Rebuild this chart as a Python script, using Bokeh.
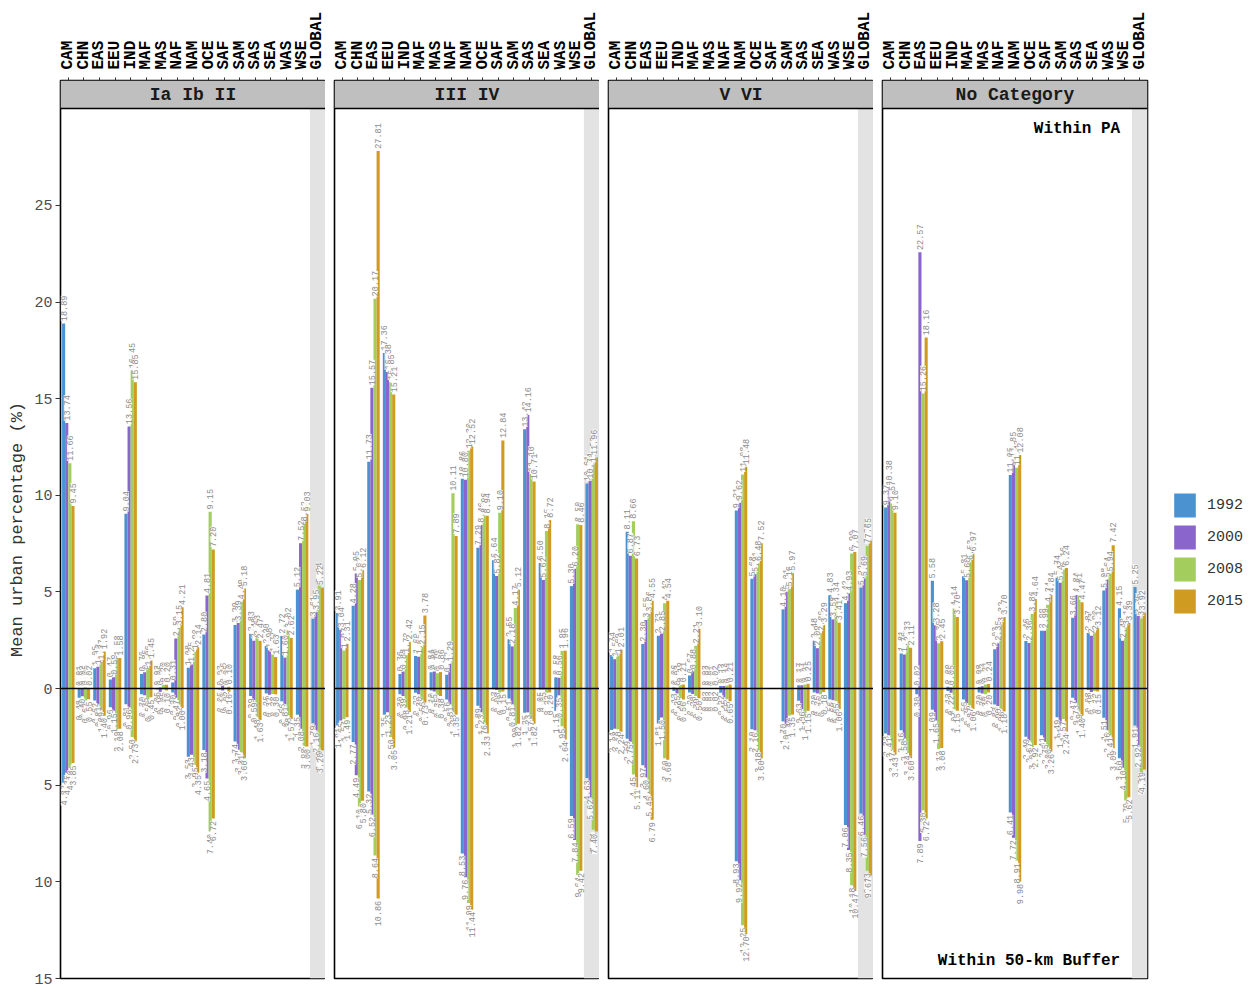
import math
from bokeh.plotting import figure
from bokeh.models import ColumnDataSource, FixedTicker, Legend, LegendItem, Range1d
from bokeh.layouts import row
from bokeh.core.properties import value
from bokeh.embed import file_html
from bokeh.resources import INLINE

NAN = float("nan")

categories = ["CAM", "CHN", "EAS", "EEU", "IND", "MAF", "MAS", "NAF", "NAM", "OCE",
              "SAF", "SAM", "SAS", "SEA", "WAS", "WSE", "GLOBAL"]
years = ["1992", "2000", "2008", "2015"]
panels = ["Ia Ib II", "III IV", "V VI", "No Category"]
year_colors = ["#4B92D0", "#8A65CC", "#A3CD5D", "#CF9B20"]

# ---- Within PA (positive side) ----
pa_p1_1992 = [18.89, 0.01, 1.05, 0.47, 9.04, 0.76, 0.03, 0.31, 1.08, 2.80, 0.03, 3.29, 2.83, 2.20, 2.72, 5.12, 3.61]
pa_p1_2000 = [13.74, 0.02, 1.13, 0.59, 13.56, 0.85, 0.05, 2.59, 1.25, 4.81, 0.16, 3.39, 2.48, 1.98, 1.60, 7.52, 3.95]
pa_p1_2008 = [11.66, 0.05, 1.37, 1.58, 16.45, 1.06, 0.20, 3.15, 1.90, 9.15, 0.05, 4.49, 2.63, 1.77, 3.02, 8.52, 5.34]
pa_p1_2015 = [9.45, 0.02, 1.92, 1.58, 15.85, 1.45, 0.20, 4.21, 2.14, 7.20, 0.10, 5.18, 2.47, 1.63, 2.62, 9.03, 5.22]

pa_p2_1992 = [3.91, 4.28, 11.73, 17.36, 0.76, 1.69, 0.84, 0.72, 10.86, 7.29, 6.64, 2.55, 13.42, 6.50, 0.58, 5.30, 10.61]
pa_p2_2000 = [3.04, 5.95, 15.57, 16.38, 0.88, 1.65, 0.88, 1.29, 10.80, 8.46, 5.82, 2.18, 14.16, 5.62, 0.56, 6.20, 10.74]
pa_p2_2008 = [1.97, 5.62, 20.17, 15.85, 1.72, 2.15, 0.79, 10.11, 12.30, 8.96, 9.10, 4.17, 11.10, 8.15, 1.95, 8.50, 11.59]
pa_p2_2015 = [2.31, 6.12, 27.81, 15.21, 2.42, 3.78, 0.86, 7.89, 12.52, 8.94, 12.84, 5.12, 10.71, 8.72, 1.96, 8.46, 11.96]

pa_p3_1992 = [1.74, 8.11, 2.30, 2.73, 0.06, 0.67, 0.03, 0.13, 9.21, 5.68, NAN, 4.10, 0.17, 2.48, 4.83, 4.42, 5.22]
pa_p3_2000 = [1.52, 6.87, 3.55, 2.85, 0.03, 0.88, 0.03, 0.13, 9.62, 5.91, NAN, 5.01, 0.17, 2.09, 3.58, 4.93, 5.69]
pa_p3_2008 = [1.69, 8.66, 3.86, 4.42, 0.19, 2.21, 0.01, 0.16, 11.08, 6.48, NAN, 5.16, 0.21, 2.86, 4.34, 6.99, 7.38]
pa_p3_2015 = [2.01, 6.73, 4.55, 4.54, 0.21, 3.10, 0.02, 0.21, 11.48, 7.52, NAN, 5.97, 0.25, 3.29, 3.41, 7.07, 7.65]

pa_p4_1992 = [9.37, 1.81, 0.02, 5.58, 0.09, 5.81, 0.08, 2.03, 11.05, 2.46, 2.99, 5.74, 3.66, 2.87, 5.08, 4.15, 5.25]
pa_p4_2000 = [10.38, 1.76, 22.57, 3.28, 0.05, 5.60, 0.12, 2.35, 11.85, 2.36, 2.99, 5.47, 4.84, 2.73, 5.64, 2.48, 3.75]
pa_p4_2008 = [9.57, 2.33, 15.26, 2.35, 4.14, 6.53, 0.21, 3.32, 11.43, 3.86, 4.34, 6.16, 4.81, 2.90, 5.94, 3.16, 3.63]
pa_p4_2015 = [9.10, 2.11, 18.16, 2.45, 3.70, 6.97, 0.24, 3.70, 12.08, 4.64, 4.84, 6.24, 4.47, 3.12, 7.42, 3.39, 3.92]

# ---- Within 50-km buffer (negative side) ----
buf_p1_1992 = [-4.87, -0.48, -0.62, -0.96, -0.81, -0.30, -0.05, -0.20, -3.53, -3.18, -0.05, -2.74, -0.39, -0.25, -0.66, -1.35, -1.79]
buf_p1_2000 = [-4.35, -0.40, -0.81, -1.15, -0.96, -0.35, -0.18, -0.47, -3.43, -4.65, -0.10, -3.17, -0.59, -0.32, -0.81, -2.08, -2.16]
buf_p1_2008 = [-4.10, -0.62, -1.09, -2.10, -2.50, -0.56, -0.05, -0.82, -3.95, -7.40, -0.02, -3.31, -1.48, -0.28, -1.38, -2.98, -3.09]
buf_p1_2015 = [-3.85, -0.55, -1.40, -2.08, -2.73, -0.45, -0.10, -1.00, -4.35, -6.72, -0.16, -3.60, -1.63, -0.30, -1.57, -3.00, -3.20]

buf_p2_1992 = [-1.91, -2.77, -5.32, -1.35, -0.30, -0.22, -0.10, -0.56, -8.53, -0.89, -0.03, -0.51, -1.25, -0.05, -1.15, -6.59, -4.63]
buf_p2_2000 = [-1.65, -4.49, -6.52, -1.23, -0.39, -0.30, -0.15, -0.81, -9.76, -1.23, -0.08, -0.81, -1.23, -0.05, -0.35, -7.84, -5.62]
buf_p2_2008 = [-1.57, -6.10, -8.64, -2.50, -0.98, -0.56, -0.35, -1.23, -11.09, -1.76, -0.20, -1.90, -1.57, -0.22, -1.95, -9.64, -7.31]
buf_p2_2015 = [-1.49, -5.80, -10.86, -3.05, -1.21, -0.73, -0.38, -1.35, -11.44, -2.33, -0.15, -1.82, -1.82, -0.20, -2.64, -9.42, -7.40]

buf_p3_1992 = [-2.14, -2.59, -3.97, -1.81, -0.13, -0.20, -0.02, -0.22, -8.93, -2.10, NAN, -1.70, -0.63, -0.20, -0.56, -7.06, -6.46]
buf_p3_2000 = [-2.08, -2.75, -4.60, -1.50, -0.25, -0.28, -0.02, -0.45, -9.92, -2.16, NAN, -2.00, -1.06, -0.25, -0.60, -8.35, -7.56]
buf_p3_2008 = [-2.10, -4.45, -5.45, -3.60, -0.49, -0.39, -0.02, -0.55, -12.25, -3.18, NAN, -1.40, -1.51, -0.30, -0.65, -10.18, -9.43]
buf_p3_2015 = [-2.24, -5.11, -6.79, -3.68, -0.56, -0.50, -0.02, -0.65, -12.70, -3.60, NAN, -1.35, -1.15, -0.18, -1.06, -10.47, -9.67]

buf_p4_1992 = [-2.33, -2.16, -0.30, -1.09, -0.13, -0.56, -0.20, -0.83, -6.41, -2.49, -2.41, -1.49, -0.47, -0.08, -1.51, -3.60, -1.91]
buf_p4_2000 = [-2.41, -2.58, -7.89, -1.65, -0.22, -0.75, -0.26, -0.90, -7.72, -2.67, -2.75, -1.91, -0.73, -0.18, -2.16, -4.10, -2.92]
buf_p4_2008 = [-3.17, -3.34, -6.30, -3.12, -1.07, -0.87, -0.30, -1.06, -8.91, -3.03, -3.00, -1.57, -1.19, -0.12, -2.41, -5.79, -4.31]
buf_p4_2015 = [-3.43, -3.60, -6.72, -3.08, -1.15, -1.06, -0.20, -1.18, -9.98, -2.92, -3.26, -2.24, -1.40, -0.15, -3.09, -5.62, -4.19]

y_ticks = [-15, -10, -5, 0, 5, 10, 15, 20, 25]

pa_data = [
    [pa_p1_1992, pa_p1_2000, pa_p1_2008, pa_p1_2015],
    [pa_p2_1992, pa_p2_2000, pa_p2_2008, pa_p2_2015],
    [pa_p3_1992, pa_p3_2000, pa_p3_2008, pa_p3_2015],
    [pa_p4_1992, pa_p4_2000, pa_p4_2008, pa_p4_2015],
]
buf_data = [
    [buf_p1_1992, buf_p1_2000, buf_p1_2008, buf_p1_2015],
    [buf_p2_1992, buf_p2_2000, buf_p2_2008, buf_p2_2015],
    [buf_p3_1992, buf_p3_2000, buf_p3_2008, buf_p3_2015],
    [buf_p4_1992, buf_p4_2000, buf_p4_2008, buf_p4_2015],
]

FONT = "Liberation Mono"
Y0 = -15.0
FRAME_H = 898
Y1 = 31.46
PX_PER_UNIT = FRAME_H / (Y1 - Y0)
STRIP = Y1 - 28 / PX_PER_UNIT
X0, X1 = -0.5, len(categories) - 0.5
offsets = [-0.3, -0.1, 0.1, 0.3]
BW = 0.2
LBL_GAP = 0.12

figs = []
legend_renderers = []
for k, pname in enumerate(panels):
    first = k == 0
    last = k == len(panels) - 1
    p = figure(frame_width=265, frame_height=FRAME_H,
               x_range=Range1d(X0, X1), y_range=Range1d(Y0, Y1),
               x_axis_location="above", output_backend="svg", toolbar_location=None,
               min_border_left=60 if first else 9, min_border_right=92 if last else 0,
               min_border_top=80, min_border_bottom=10)
    p.grid.visible = False
    p.outline_line_color = "black"
    p.outline_line_width = 1.6
    p.background_fill_color = "white"
    p.border_fill_color = "white"

    # grey band behind GLOBAL
    p.quad(left=[X1 - 1], right=[X1], bottom=[Y0], top=[STRIP],
           fill_color="#E3E3E3", line_color=None)

    # bars
    for j, yr in enumerate(years):
        xs = [i + offsets[j] for i in range(len(categories))]
        pos = pa_data[k][j]
        neg = buf_data[k][j]
        src_pos = ColumnDataSource(dict(x=[x for x, v in zip(xs, pos) if not math.isnan(v)],
                                        top=[v for v in pos if not math.isnan(v)]))
        src_neg = ColumnDataSource(dict(x=[x for x, v in zip(xs, neg) if not math.isnan(v)],
                                        bottom=[v for v in neg if not math.isnan(v)]))
        r = p.vbar(x="x", top="top", bottom=0, width=BW, source=src_pos,
                   fill_color=year_colors[j], line_color=None)
        p.vbar(x="x", top=0, bottom="bottom", width=BW, source=src_neg,
               fill_color=year_colors[j], line_color=None)
        if last:
            legend_renderers.append((yr, r))

    # value labels
    for j, yr in enumerate(years):
        xs = [min(i + offsets[j], X1 - 0.33) for i in range(len(categories))]
        pos = pa_data[k][j]
        neg = buf_data[k][j]
        lp = ColumnDataSource(dict(
            x=[x for x, v in zip(xs, pos) if not math.isnan(v)],
            y=[v + LBL_GAP for v in pos if not math.isnan(v)],
            t=["%.2f" % abs(v) for v in pos if not math.isnan(v)]))
        ln = ColumnDataSource(dict(
            x=[x for x, v in zip(xs, neg) if not math.isnan(v)],
            y=[v - LBL_GAP for v in neg if not math.isnan(v)],
            t=["%.2f" % abs(v) for v in neg if not math.isnan(v)]))
        for src, al in ((lp, "left"), (ln, "right")):
            p.text(x="x", y="y", text="t", source=src, angle=math.pi / 2,
                   text_align=al, text_baseline="middle",
                   text_font=value(FONT), text_font_size="8.5px", text_color="#8C8C8C",
                   background_fill_color="white", background_fill_alpha=0.85)

    # zero line
    p.segment(x0=[X0], y0=[0], x1=[X1], y1=[0], line_color="black", line_width=1.6)

    # facet strip
    p.quad(left=[X0], right=[X1], bottom=[STRIP], top=[Y1],
           fill_color="#BFBFBF", line_color=None)
    p.segment(x0=[X0], y0=[STRIP], x1=[X1], y1=[STRIP], line_color="black", line_width=1.6)
    p.text(x=[(X0 + X1) / 2], y=[(STRIP + Y1) / 2], text=[pname],
           text_font=value(FONT), text_font_style="bold", text_font_size="18px",
           text_color="#1A1A1A", text_align="center", text_baseline="middle")

    # top category axis
    xa = p.xaxis[0]
    xa.ticker = FixedTicker(ticks=list(range(len(categories))))
    xa.major_label_overrides = {i: c for i, c in enumerate(categories)}
    xa.major_label_orientation = math.pi / 2
    xa.major_label_text_font = FONT
    xa.major_label_text_font_style = "bold"
    xa.major_label_text_font_size = "16px"
    xa.major_label_text_color = "black"
    xa.major_label_standoff = 8
    xa.axis_line_color = None
    xa.major_tick_out = 3
    xa.major_tick_in = 0
    xa.major_tick_line_color = "#333333"
    xa.minor_tick_line_color = None

    ya = p.yaxis[0]
    if first:
        ya.ticker = FixedTicker(ticks=y_ticks)
        ya.major_label_overrides = {t: str(abs(t)) for t in y_ticks}
        ya.major_label_text_font = FONT
        ya.major_label_text_font_size = "15px"
        ya.major_label_text_color = "#4D4D4D"
        ya.major_label_standoff = 3
        ya.axis_line_color = None
        ya.major_tick_out = 5
        ya.major_tick_in = 0
        ya.major_tick_line_color = "#333333"
        ya.minor_tick_line_color = None
        ya.axis_label = "Mean urban percentage (%)"
        ya.axis_label_text_font = FONT
        ya.axis_label_text_font_style = "normal"
        ya.axis_label_text_font_size = "17px"
        ya.axis_label_text_color = "#333333"
        ya.axis_label_standoff = 4
    else:
        ya.visible = False

    if last:
        p.text(x=[X1 - 1.75], y=[Y1 - (128 - 80) / PX_PER_UNIT],
               text=["Within PA"], text_font=value(FONT), text_font_style="bold",
               text_font_size="16px", text_color="black", text_align="right", text_baseline="middle")
        p.text(x=[X1 - 1.75], y=[Y0 + 18 / PX_PER_UNIT],
               text=["Within 50-km Buffer"], text_font=value(FONT), text_font_style="bold",
               text_font_size="16px", text_color="black", text_align="right", text_baseline="middle")
        legend = Legend(items=[LegendItem(label=yr, renderers=[r]) for yr, r in legend_renderers],
                        location=(24, 362), orientation="vertical",
                        glyph_width=27, glyph_height=30, spacing=2, label_standoff=9,
                        label_text_font=FONT, label_text_font_size="15px",
                        label_text_color="#333333", border_line_color=None,
                        background_fill_alpha=0, padding=0, margin=0)
        p.add_layout(legend, "right")

    figs.append(p)

layout = row(*figs)
open("out.html", "w").write(file_html(layout, INLINE))
